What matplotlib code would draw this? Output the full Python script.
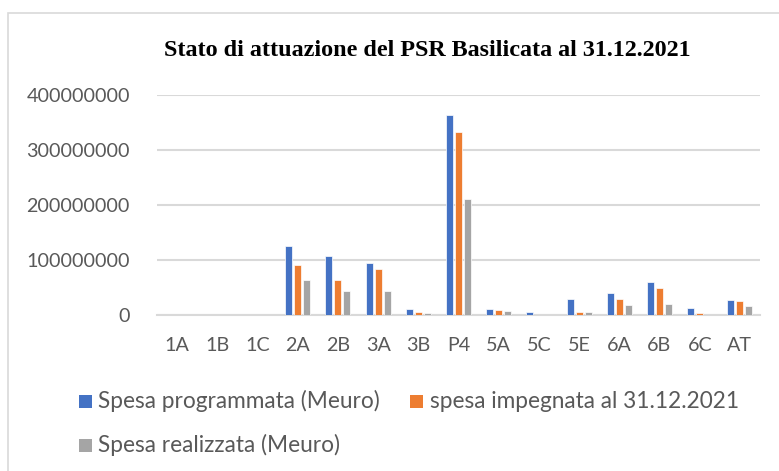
import matplotlib
matplotlib.use("Agg")
import matplotlib.pyplot as plt
import matplotlib.patches as mpatches
import numpy as np

categories = ["1A", "1B", "1C", "2A", "2B", "3A", "3B", "P4", "5A", "5C", "5E", "6A", "6B", "6C", "AT"]
spesa_programmata = [0, 0, 0, 125.5e6, 106.7e6, 94e6, 11.6e6, 363.6e6, 10.4e6, 5.5e6, 28.5e6, 40e6, 59.5e6, 12e6, 26.7e6]
spesa_impegnata = [0, 0, 0, 90.4e6, 63.6e6, 83.6e6, 5.5e6, 332e6, 9e6, 0.3e6, 5.5e6, 28.5e6, 48.5e6, 3e6, 25e6]
spesa_realizzata = [0, 0, 0, 63e6, 43e6, 43e6, 3e6, 211.6e6, 8e6, 0.2e6, 5.5e6, 18e6, 19.5e6, 0.5e6, 16e6]
series_labels = ["Spesa programmata (Meuro)", "spesa impegnata al 31.12.2021", "Spesa realizzata (Meuro)"]
y_ticks = [0, 100000000, 200000000, 300000000, 400000000]
title = "Stato di attuazione del PSR Basilicata al 31.12.2021"

colors = ["#4472C4", "#ED7D31", "#A5A5A5"]
W, H = 779, 471
fig = plt.figure(figsize=(W / 100, H / 100), dpi=100)

# chart border
fig.patches.append(mpatches.Rectangle((7.5 / W, -0.1), 1.2, (H - 13) / H + 0.1, transform=fig.transFigure,
                                      fill=False, edgecolor="#D9D9D9", linewidth=1.2))

ax = fig.add_axes([157 / W, (H - 315) / H, 603 / W, 220 / H])
x = np.arange(len(categories))
bw = 0.175
off = 0.224
for i, (vals, c) in enumerate(zip([spesa_programmata, spesa_impegnata, spesa_realizzata], colors)):
    ax.bar(x + (i - 1) * off, vals, width=bw, color=c, edgecolor="white", linewidth=0.5,
           label=series_labels[i], zorder=3)

ax.set_xlim(-0.5, len(categories) - 0.5)
ax.set_ylim(0, 400000000)
ax.set_yticks(y_ticks)
ax.set_yticklabels([str(v) for v in y_ticks])
ax.set_xticks(x)
ax.set_xticklabels(categories)
ax.grid(axis="y", color="#D9D9D9", linewidth=1.5, zorder=0)
for s in ["top", "right", "left"]:
    ax.spines[s].set_visible(False)
ax.spines["bottom"].set_color("#D9D9D9")
ax.spines["bottom"].set_linewidth(1.5)
ax.tick_params(axis="both", length=0, labelsize=14.2, labelcolor="#595959")
ax.tick_params(axis="y", pad=19.5)
ax.tick_params(axis="x", pad=16)
for lab in ax.get_xticklabels() + ax.get_yticklabels():
    lab.set_family("Lato")

fig.text(427 / W, 1 - 51 / H, title, ha="center", va="center", fontsize=17.4,
         fontweight="bold", family="Liberation Serif")

# legend (Excel-style, row-wise)
leg_items = [(0, 79, 401), (1, 410, 401), (2, 79, 445)]
for idx, lx, ly in leg_items:
    fig.patches.append(mpatches.Rectangle((lx / W, 1 - (ly + 6.5) / H), 13 / W, 13 / H,
                                          transform=fig.transFigure, facecolor=colors[idx],
                                          edgecolor="none"))
    fig.text((lx + 19.5) / W, 1 - ly / H, series_labels[idx], ha="left", va="center",
             fontsize=16.3, family="Lato", color="#595959")

fig.savefig("out.png", dpi=100)
